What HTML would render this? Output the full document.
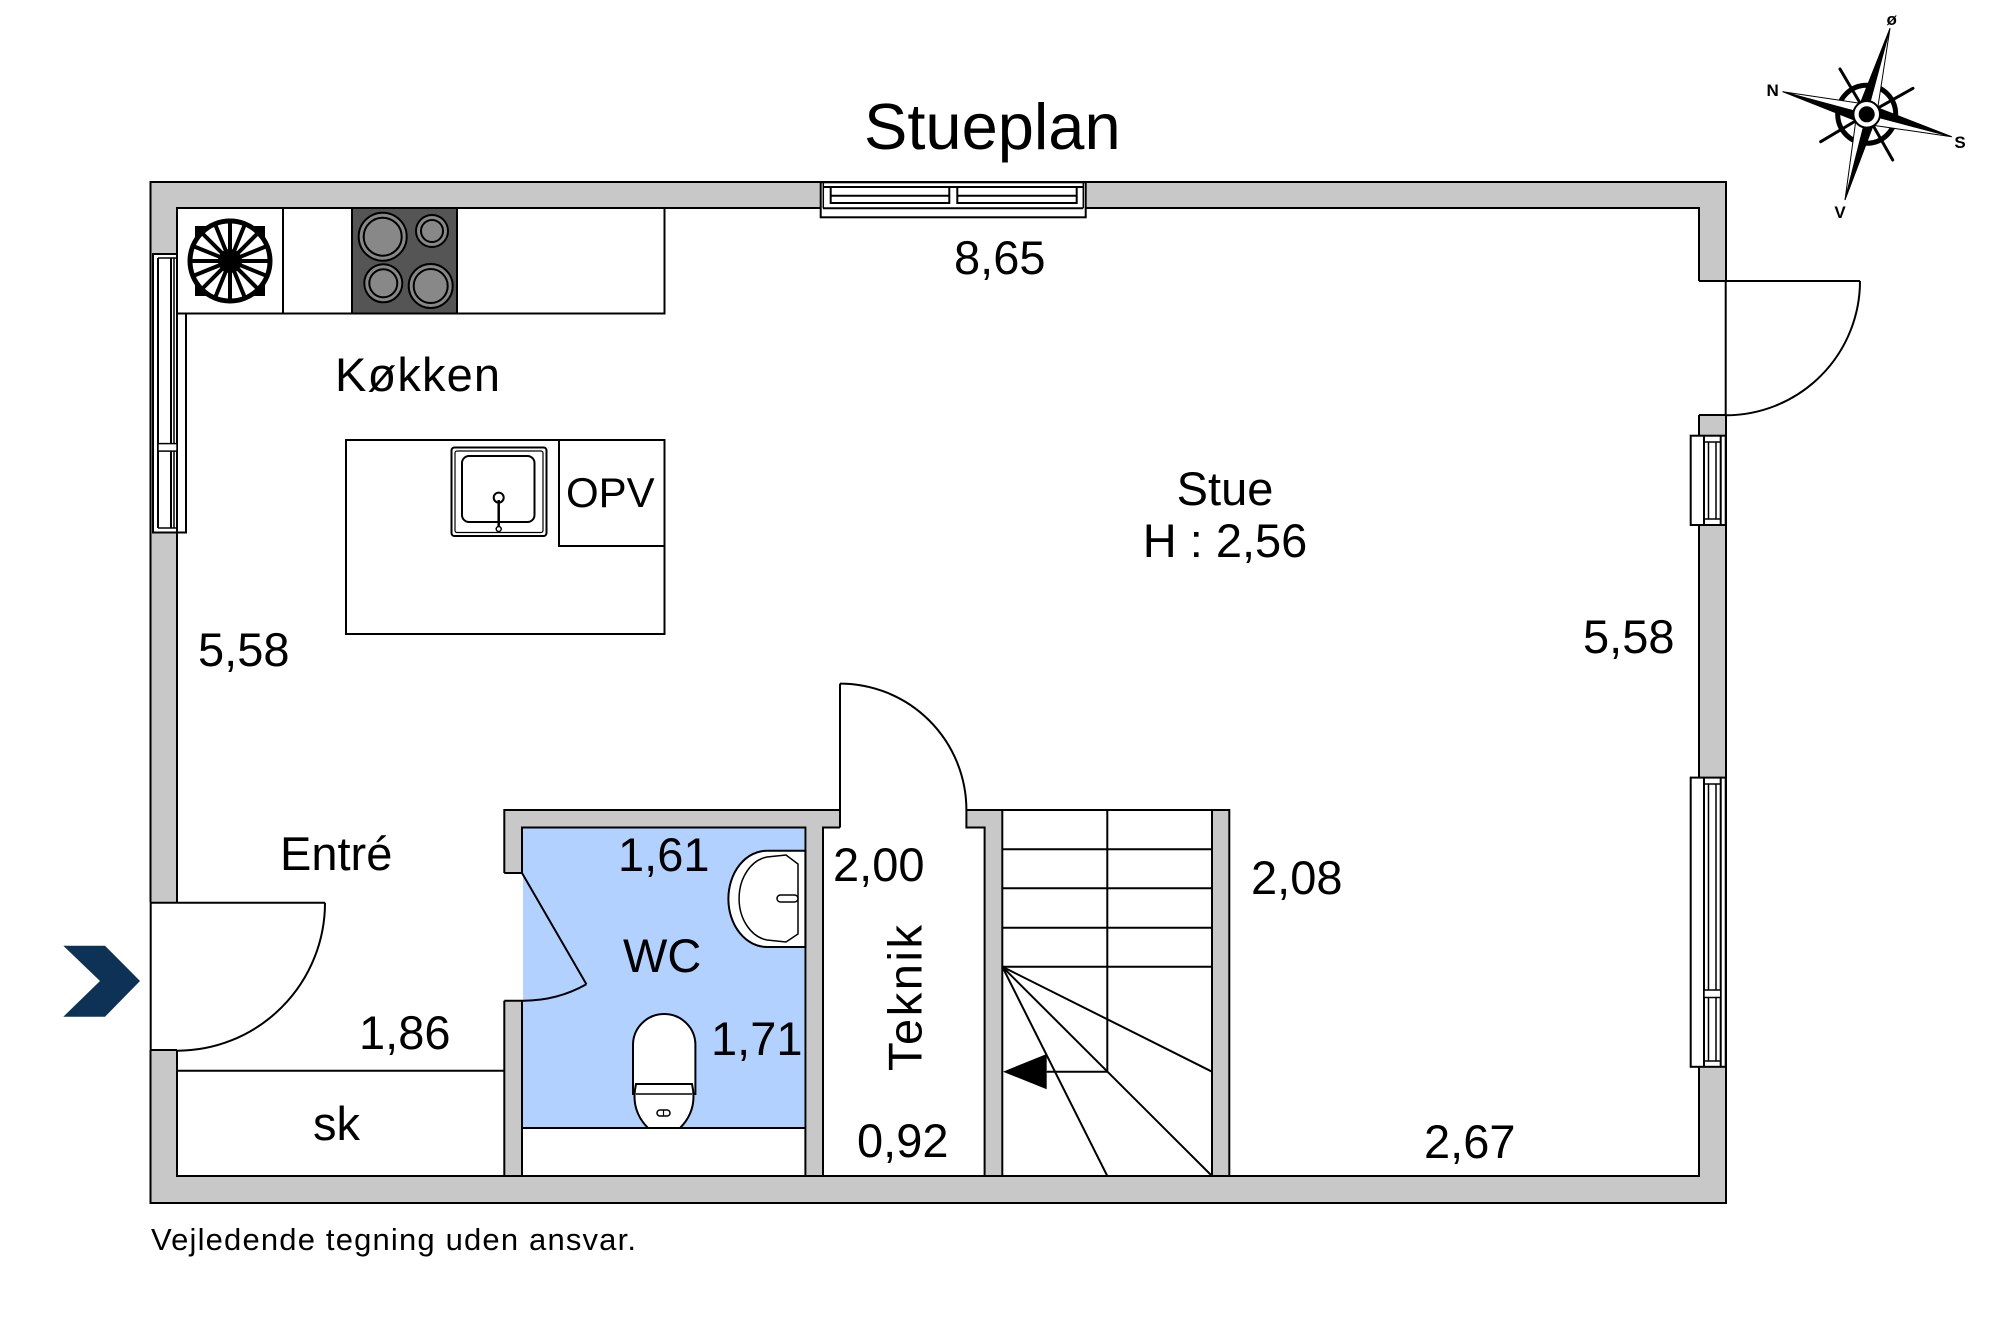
<!DOCTYPE html>
<html><head><meta charset="utf-8"><style>
html,body{margin:0;padding:0;background:#fff;}
svg{display:block;}
text{font-family:"Liberation Sans",Arial,sans-serif;fill:#000;}
</style></head><body>
<svg width="2000" height="1333" viewBox="0 0 2000 1333" xmlns="http://www.w3.org/2000/svg">
<rect x="0" y="0" width="2000" height="1333" fill="#fff"/>
<text x="864" y="149" font-size="65">Stueplan</text>

<rect x="150.5" y="182" width="1575.5" height="1021" fill="#c8c8c8" stroke="#000" stroke-width="2"/>
<rect x="177" y="208" width="1522" height="968" fill="#fff" stroke="#000" stroke-width="2"/>

<rect x="820.7" y="182.3" width="265" height="35" fill="#fff" stroke="#000" stroke-width="2"/>
<line x1="823" y1="187" x2="1083" y2="187" stroke="#000" stroke-width="2"/>
<line x1="823" y1="208.3" x2="1083" y2="208.3" stroke="#000" stroke-width="2"/>
<rect x="830.7" y="187" width="118.6" height="16" fill="none" stroke="#000" stroke-width="2"/>
<rect x="957.3" y="187" width="119.4" height="16" fill="none" stroke="#000" stroke-width="2"/>
<line x1="830.7" y1="195.7" x2="949.3" y2="195.7" stroke="#000" stroke-width="2"/>
<line x1="957.3" y1="195.7" x2="1076.7" y2="195.7" stroke="#000" stroke-width="2"/>
<line x1="823.3" y1="182.3" x2="823.3" y2="208.3" stroke="#000" stroke-width="1.5"/>
<line x1="1083.3" y1="182.3" x2="1083.3" y2="208.3" stroke="#000" stroke-width="1.5"/>

<rect x="153" y="254" width="33" height="278.5" fill="#fff" stroke="#000" stroke-width="2"/>
<line x1="158" y1="258" x2="158" y2="528" stroke="#000" stroke-width="2"/>
<line x1="171" y1="258" x2="171" y2="528" stroke="#000" stroke-width="2"/>
<line x1="174" y1="258" x2="174" y2="528" stroke="#000" stroke-width="1.5"/>
<line x1="177" y1="254" x2="177" y2="532" stroke="#000" stroke-width="2"/>
<line x1="158" y1="258" x2="177" y2="258" stroke="#000" stroke-width="1.5"/>
<line x1="158" y1="528" x2="177" y2="528" stroke="#000" stroke-width="1.5"/>
<rect x="158" y="443.6" width="19" height="7.5" fill="#fff" stroke="#000" stroke-width="1.5"/>

<rect x="149" y="902.7" width="29" height="147.3" fill="#fff"/>
<line x1="150.7" y1="902.7" x2="150.7" y2="1050" stroke="#000" stroke-width="2"/>
<line x1="150.7" y1="902.7" x2="325" y2="902.7" stroke="#000" stroke-width="2"/>
<line x1="150.7" y1="1050" x2="177" y2="1050" stroke="#000" stroke-width="2"/>
<path d="M325 902.7 A148 148 0 0 1 177 1050.7" fill="none" stroke="#000" stroke-width="2"/>
<polygon points="63.3,945.7 105,945.7 140,981 105,1016.7 63.3,1016.7 100,981" fill="#0d3256"/>

<rect x="1698" y="281" width="29" height="134" fill="#fff"/>
<line x1="1725.7" y1="281" x2="1725.7" y2="415" stroke="#000" stroke-width="2"/>
<line x1="1699" y1="281" x2="1860" y2="281" stroke="#000" stroke-width="2"/>
<line x1="1699" y1="415" x2="1725.7" y2="415" stroke="#000" stroke-width="2"/>
<line x1="1699" y1="208" x2="1699" y2="281" stroke="#000" stroke-width="2"/>
<path d="M1860 281 A134.3 134.3 0 0 1 1725.7 415.3" fill="none" stroke="#000" stroke-width="2"/>
<rect x="1690.7" y="435.7" width="35" height="89.3" fill="#fff" stroke="#000" stroke-width="2"/>
<line x1="1704" y1="436" x2="1704" y2="525" stroke="#000" stroke-width="2"/>
<line x1="1720.7" y1="436" x2="1720.7" y2="525" stroke="#000" stroke-width="2"/>
<line x1="1708.5" y1="442" x2="1708.5" y2="519" stroke="#000" stroke-width="1.5"/>
<line x1="1716" y1="442" x2="1716" y2="519" stroke="#000" stroke-width="1.5"/>
<line x1="1704" y1="442" x2="1720.7" y2="442" stroke="#000" stroke-width="1.5"/>
<line x1="1704" y1="519" x2="1720.7" y2="519" stroke="#000" stroke-width="1.5"/>

<rect x="1690.7" y="777.6" width="35" height="289.2" fill="#fff" stroke="#000" stroke-width="2"/>
<line x1="1704" y1="778" x2="1704" y2="1067" stroke="#000" stroke-width="2"/>
<line x1="1720.7" y1="778" x2="1720.7" y2="1067" stroke="#000" stroke-width="2"/>
<line x1="1708.5" y1="784" x2="1708.5" y2="1061" stroke="#000" stroke-width="1.5"/>
<line x1="1716" y1="784" x2="1716" y2="1061" stroke="#000" stroke-width="1.5"/>
<line x1="1704" y1="784" x2="1720.7" y2="784" stroke="#000" stroke-width="1.5"/>
<line x1="1704" y1="1061" x2="1720.7" y2="1061" stroke="#000" stroke-width="1.5"/>
<rect x="1704" y="990" width="16.7" height="7.5" fill="#fff" stroke="#000" stroke-width="1.5"/>

<rect x="177" y="208" width="487.5" height="105.5" fill="#fff" stroke="#000" stroke-width="2"/>
<line x1="283" y1="208" x2="283" y2="313.5" stroke="#000" stroke-width="2"/>
<rect x="352" y="208" width="105" height="105.5" fill="#555" stroke="#000" stroke-width="2"/>
<g stroke="#000" stroke-width="2" fill="#888">
<circle cx="382.7" cy="236.7" r="24"/><circle cx="382.7" cy="236.7" r="19" fill="none"/>
<circle cx="432" cy="231" r="16"/><circle cx="432" cy="231" r="11" fill="none"/>
<circle cx="383.3" cy="283.3" r="19"/><circle cx="383.3" cy="283.3" r="14" fill="none"/>
<circle cx="430.7" cy="286" r="22"/><circle cx="430.7" cy="286" r="17" fill="none"/>
</g>
<g>
<rect x="195" y="226" width="70" height="70" fill="#000"/>
<circle cx="230" cy="261" r="40" fill="#fff" stroke="#000" stroke-width="5"/>
<g stroke="#000" stroke-width="4">
<line x1="230" y1="221" x2="230" y2="301"/>
<line x1="190" y1="261" x2="270" y2="261"/>
<line x1="202" y1="233" x2="258" y2="289"/>
<line x1="258" y1="233" x2="202" y2="289"/>
<line x1="215" y1="224" x2="245" y2="298"/>
<line x1="245" y1="224" x2="215" y2="298"/>
<line x1="193" y1="246" x2="267" y2="276"/>
<line x1="193" y1="276" x2="267" y2="246"/>
</g>
<circle cx="230" cy="261" r="12" fill="#000"/>
</g>

<rect x="346" y="440" width="318.5" height="194" fill="#fff" stroke="#000" stroke-width="2"/>
<rect x="559" y="440" width="105.5" height="106" fill="#fff" stroke="#000" stroke-width="2"/>
<rect x="451.5" y="447.5" width="95" height="88.5" rx="3" fill="#fff" stroke="#000" stroke-width="2"/>
<rect x="455" y="451" width="88" height="81.5" rx="2" fill="none" stroke="#000" stroke-width="1.2"/>
<rect x="462" y="456" width="72.5" height="66" rx="7" fill="none" stroke="#000" stroke-width="2"/>
<circle cx="498.7" cy="497.6" r="5" fill="#fff" stroke="#000" stroke-width="2"/>
<line x1="498.7" y1="500" x2="498.7" y2="529" stroke="#000" stroke-width="2.5"/>
<circle cx="498.7" cy="529" r="2.5" fill="#fff" stroke="#000" stroke-width="1.5"/>

<rect x="504.3" y="810" width="725" height="366" fill="#c8c8c8" stroke="#000" stroke-width="2"/>
<rect x="522" y="827.5" width="283.4" height="348.5" fill="#fff" stroke="#000" stroke-width="2"/>
<rect x="523" y="828.5" width="281.4" height="299.5" fill="#b3d1ff"/>
<line x1="522" y1="1128" x2="805.4" y2="1128" stroke="#000" stroke-width="2"/>
<rect x="503" y="873" width="20" height="127.7" fill="#fff"/>
<rect x="523" y="873" width="2" height="127.7" fill="#b3d1ff"/>
<line x1="504.3" y1="873" x2="522" y2="873" stroke="#000" stroke-width="2"/>
<line x1="504.3" y1="1000.7" x2="522" y2="1000.7" stroke="#000" stroke-width="2"/>
<line x1="522" y1="873" x2="586.4" y2="984.3" stroke="#000" stroke-width="2"/>
<path d="M586.4 984.3 A128 128 0 0 1 522 1000.7" fill="none" stroke="#000" stroke-width="2"/>
<path d="M805.4 850.7 L767 850.7 A38.5 48 0 0 0 767 947 L805.4 947 Z" fill="#fff" stroke="#000" stroke-width="2"/>
<path d="M786 855 L767 857 A33 42 0 0 0 767 940 L786 942 L798 934 L798 864 Z" fill="#fff" stroke="#000" stroke-width="1.5"/>
<rect x="777" y="895" width="21" height="7" rx="3.5" fill="#fff" stroke="#000" stroke-width="1.5"/>
<path d="M633 1094 L633 1045 A31.2 31 0 0 1 695.4 1045 L695.4 1094 Z" fill="#fff" stroke="#000" stroke-width="2"/>
<path d="M636 1084 L692 1084 Q698 1110 680 1128 L648 1128 Q630 1110 636 1084 Z" fill="#fff" stroke="#000" stroke-width="2"/>
<line x1="636" y1="1094" x2="692" y2="1094" stroke="#000" stroke-width="1.5"/>
<rect x="657" y="1110" width="13" height="6" rx="3" fill="#fff" stroke="#000" stroke-width="1.5"/>
<line x1="663.5" y1="1110" x2="663.5" y2="1116" stroke="#000" stroke-width="1.2"/>

<rect x="823" y="827.5" width="161.6" height="348.5" fill="#fff" stroke="#000" stroke-width="2"/>
<rect x="840" y="808" width="126.4" height="21" fill="#fff"/>
<line x1="840" y1="683.6" x2="840" y2="827.5" stroke="#000" stroke-width="2"/>
<line x1="823" y1="827.5" x2="840" y2="827.5" stroke="#000" stroke-width="2"/>
<path d="M840 683.6 A126.4 126.4 0 0 1 966.4 810 L966.4 827.5 L984.6 827.5" fill="none" stroke="#000" stroke-width="2"/>
<line x1="966.4" y1="810" x2="1002.5" y2="810" stroke="#000" stroke-width="2"/>

<rect x="1002.3" y="810" width="209.7" height="366" fill="#fff" stroke="#000" stroke-width="2"/>
<g stroke="#000" stroke-width="2">
<line x1="1002.3" y1="849.3" x2="1212" y2="849.3"/>
<line x1="1002.3" y1="888.3" x2="1212" y2="888.3"/>
<line x1="1002.3" y1="927.7" x2="1212" y2="927.7"/>
<line x1="1002.3" y1="966.7" x2="1212" y2="966.7"/>
<line x1="1107.3" y1="810" x2="1107.3" y2="1071.7"/>
<line x1="1046.7" y1="1071.7" x2="1107.3" y2="1071.7"/>
<line x1="1002.3" y1="966.7" x2="1212" y2="1071.7"/>
<line x1="1002.3" y1="966.7" x2="1212" y2="1176"/>
<line x1="1002.3" y1="966.7" x2="1107.3" y2="1176"/>
</g>
<polygon points="1003,1071.7 1046.7,1054 1046.7,1089.3" fill="#000"/>

<line x1="177" y1="1070.7" x2="504.3" y2="1070.7" stroke="#000" stroke-width="2"/>

<g font-size="47">
<text x="954" y="274">8,65</text>
<text x="335" y="391" textLength="165">Køkken</text>
<text x="1225" y="505" text-anchor="middle">Stue</text>
<text x="1225" y="557" text-anchor="middle">H : 2,56</text>
<text x="198" y="666">5,58</text>
<text x="1583" y="653">5,58</text>
<text x="280" y="870">Entré</text>
<text x="618" y="871">1,61</text>
<text x="833" y="881">2,00</text>
<text x="1251" y="894">2,08</text>
<text x="623" y="972">WC</text>
<text x="359" y="1049">1,86</text>
<text x="711" y="1055">1,71</text>
<text x="313" y="1140">sk</text>
<text x="857" y="1157">0,92</text>
<text x="1424" y="1158">2,67</text>
<text transform="translate(921.4,1071) rotate(-90)" textLength="146">Teknik</text>
</g>
<text x="566" y="507" font-size="42">OPV</text>
<text x="151" y="1250" font-size="31" textLength="485">Vejledende tegning uden ansvar.</text>

<g>
<g stroke="#000" stroke-width="3" stroke-linecap="round">
<line x1="1866.7" y1="114.3" x2="1840" y2="69"/>
<line x1="1866.7" y1="114.3" x2="1913" y2="88.3"/>
<line x1="1866.7" y1="114.3" x2="1892.7" y2="160"/>
<line x1="1866.7" y1="114.3" x2="1820.7" y2="141.7"/>
</g>
<circle cx="1866.7" cy="114.3" r="29" fill="none" stroke="#000" stroke-width="5"/>
<g stroke="#000" stroke-width="1">
<polygon points="1866.7,114.3 1890,28.3 1876.35,116.9" fill="#fff"/>
<polygon points="1866.7,114.3 1890,28.3 1857.05,111.7" fill="#000"/>
<polygon points="1866.7,114.3 1951.7,136.7 1864.15,124" fill="#fff"/>
<polygon points="1866.7,114.3 1951.7,136.7 1869.25,104.6" fill="#000"/>
<polygon points="1866.7,114.3 1845,200 1857,111.85" fill="#fff"/>
<polygon points="1866.7,114.3 1845,200 1876.4,116.75" fill="#000"/>
<polygon points="1866.7,114.3 1782.7,91.7 1869.3,104.64" fill="#fff"/>
<polygon points="1866.7,114.3 1782.7,91.7 1864.1,123.96" fill="#000"/>
</g>
<circle cx="1866.7" cy="114.3" r="13.3" fill="#fff" stroke="#000" stroke-width="2"/>
<circle cx="1866.7" cy="114.3" r="8" fill="#000"/>
<g font-size="17" font-weight="bold" text-anchor="middle">
<text x="1891.7" y="25">ø</text>
<text x="1772.7" y="96">N</text>
<text x="1960" y="148">S</text>
<text x="1840" y="218">V</text>
</g>
</g>
</svg>
</body></html>
